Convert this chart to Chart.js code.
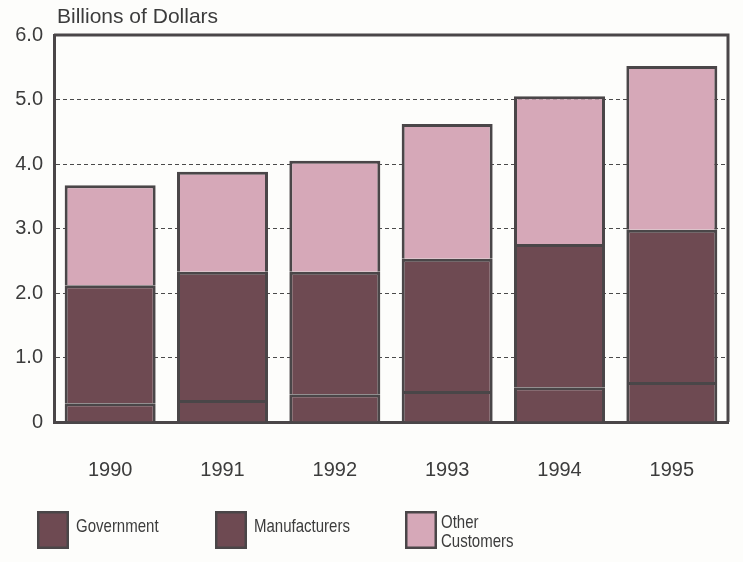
<!DOCTYPE html>
<html>
<head>
<meta charset="utf-8">
<script src="https://cdn.jsdelivr.net/npm/chart.js@4.4.0/dist/chart.umd.min.js"></script>
<style>
  html, body { margin: 0; padding: 0; background: #fdfdfb; }
  canvas { display: block; }
</style>
</head>
<body>
<canvas id="myChart" width="743" height="562"></canvas>
<script>
'use strict';

// values (billions of dollars)
const years = ['1990', '1991', '1992', '1993', '1994', '1995'];
const government = [0.29, 0.34, 0.43, 0.48, 0.54, 0.62];
const manufacturers = [1.83, 1.99, 1.90, 2.05, 2.22, 2.36];
const otherCustomers = [1.55, 1.55, 1.72, 2.09, 2.29, 2.54];
const legendLabels = [['Government'], ['Manufacturers'], ['Other', 'Customers']];

const darkFill = '#6e4a52';
const lightFill = '#d6a8b8';
const edge = '#4a4648';
const textColor = '#3c3c3c';
const font = '"Liberation Sans", Arial, sans-serif';

// frame, title and legend
const extras = {
  id: 'extras',
  afterDatasetsDraw(chart) {
    const ctx = chart.ctx;
    const a = chart.chartArea;
    ctx.save();
    ctx.strokeStyle = edge;
    ctx.lineWidth = 3;
    ctx.beginPath();
    ctx.moveTo(a.left, a.top);
    ctx.lineTo(a.right, a.top);
    ctx.lineTo(a.right, a.bottom);
    ctx.stroke();
    ctx.restore();
  },
  afterDraw(chart) {
    const ctx = chart.ctx;
    ctx.save();
    ctx.fillStyle = textColor;
    ctx.font = '21px ' + font;
    ctx.textBaseline = 'middle';
    ctx.fillText('Billions of Dollars', 57, 17);

    const boxX = [37, 215, 405];
    chart.data.datasets.forEach((ds, i) => {
      const x = boxX[i];
      ctx.fillStyle = ds.backgroundColor;
      ctx.fillRect(x, 511, 32, 38);
      ctx.strokeStyle = edge;
      ctx.lineWidth = 2.5;
      ctx.strokeRect(x + 1.25, 512.25, 29.5, 35.5);
      ctx.fillStyle = textColor;
      ctx.font = '19px ' + font;
      // the legend type is a condensed face, squeeze it sideways
      const lines = legendLabels[i];
      const tx = x + (lines.length === 1 ? 39 : 36);
      ctx.save();
      ctx.translate(tx, 0);
      ctx.scale(0.79, 1);
      if (lines.length === 1) {
        ctx.fillText(lines[0], 0, 527);
      } else {
        ctx.fillText(lines[0], 0, 523);
        ctx.fillText(lines[1], 0, 542);
      }
      ctx.restore();
    });
    ctx.restore();
  }
};

const ctx = document.getElementById('myChart').getContext('2d');
window.chart = new Chart(ctx, {
  type: 'bar',
  data: {
    labels: years,
    datasets: [
      { label: 'Government', data: government, backgroundColor: darkFill },
      { label: 'Manufacturers', data: manufacturers, backgroundColor: darkFill },
      { label: 'Other Customers', data: otherCustomers, backgroundColor: lightFill }
    ].map(d => Object.assign(d, {
      borderColor: edge,
      borderWidth: { top: 3, left: 3, right: 3, bottom: 0 },
      borderSkipped: false,
      barPercentage: 0.81,
      categoryPercentage: 1
    }))
  },
  options: {
    responsive: false,
    animation: false,
    layout: { padding: { top: 35, right: 15, left: 0, bottom: 0 } },
    plugins: {
      legend: { display: false },
      tooltip: { enabled: false }
    },
    scales: {
      x: {
        stacked: true,
        grid: { display: false },
        border: { display: true, color: edge, width: 3 },
        ticks: { color: textColor, font: { family: font, size: 20 }, padding: 28 },
        afterFit: s => { s.height = 140; }
      },
      y: {
        stacked: true,
        min: 0,
        max: 6,
        grid: {
          drawTicks: false,
          color: c => (c.tick && (c.tick.value === 0 || c.tick.value === 6)) ? 'rgba(0,0,0,0)' : '#4a4a4a',
          lineWidth: 1
        },
        border: { display: true, color: edge, width: 3, dash: [4, 3] },
        ticks: {
          stepSize: 1,
          color: textColor,
          font: { family: font, size: 20 },
          padding: 11,
          callback: v => v === 0 ? '0' : v.toFixed(1)
        },
        afterFit: s => { s.width = 54; }
      }
    }
  },
  plugins: [extras]
});
</script>
</body>
</html>
